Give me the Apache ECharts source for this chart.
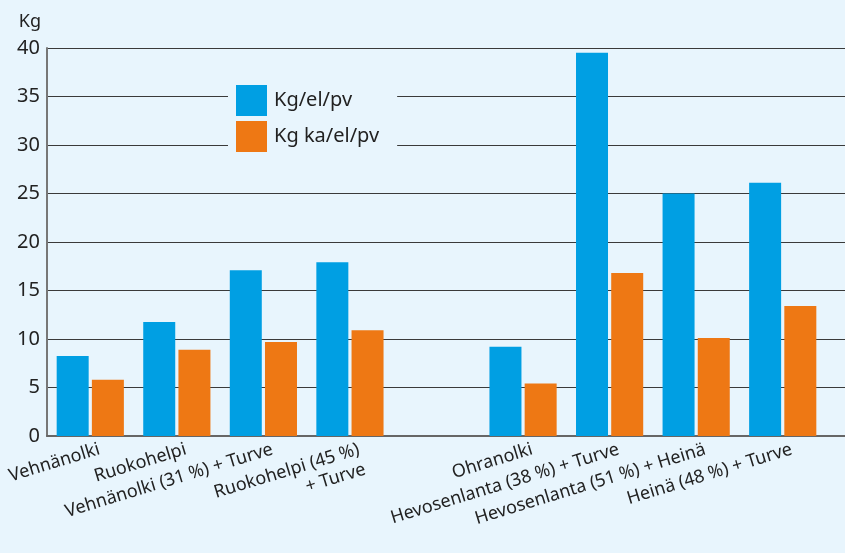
<!DOCTYPE html>
<html>
<head>
<meta charset="utf-8">
<script src="https://cdn.jsdelivr.net/npm/echarts@6/dist/echarts.min.js"></script>
<style>
  html, body { margin: 0; padding: 0; background: #e8f5fd; }
  #chart { width: 845px; height: 553px; }
</style>
</head>
<body>
<div id="chart"></div>
<script>
// Categories (an empty slot separates the two groups)
const categories = [
  'Vehnänolki',
  'Ruokohelpi',
  'Vehnänolki (31 %) + Turve',
  'Ruokohelpi (45 %)\n+ Turve',
  '',
  'Ohranolki',
  'Hevosenlanta (38 %) + Turve',
  'Hevosenlanta (51 %) + Heinä',
  'Heinä (48 %) + Turve'
];
const seriesNames = ['Kg/el/pv', 'Kg ka/el/pv'];
const kgPerDay   = [8.25, 11.75, 17.1, 17.9, null, 9.2, 39.5, 25.0, 26.1];
const kgDmPerDay = [5.8, 8.9, 9.7, 10.9, null, 5.4, 16.8, 10.1, 13.4];
const yTicks = { min: 0, max: 40, interval: 5 };

const BG = '#e8f5fd';
const TEXT = '#222222';
const FONT = 'Noto Sans';

const chart = echarts.init(document.getElementById('chart'), null, { renderer: 'canvas' });

const plotTop = 48, plotBottom = 117;

chart.setOption({
  backgroundColor: BG,
  animation: false,
  textStyle: { fontFamily: FONT, color: TEXT },
  legend: {
    data: seriesNames,
    orient: 'vertical',
    left: 228,
    top: 79,
    itemWidth: 31,
    itemHeight: 31,
    itemGap: 5,
    padding: [6, 18, 6, 8],
    backgroundColor: BG,
    icon: 'rect',
    textStyle: { fontSize: 20, color: TEXT, fontFamily: FONT, padding: [0, 0, 0, 2] }
  },
  grid: [
    // full-width grid: value axis, gridlines and baseline
    { left: 47, right: 0, top: plotTop, bottom: plotBottom },
    // bars
    { left: 47, right: 19, top: plotTop, bottom: plotBottom },
    // category labels, nudged slightly right of the bar centres
    { left: 53, right: 13, top: plotTop, bottom: plotBottom }
  ],
  xAxis: [
    {
      gridIndex: 0, type: 'value', min: 0, max: 1,
      axisLine: { show: true, lineStyle: { color: '#666', width: 2 } },
      axisTick: { show: false }, axisLabel: { show: false }, splitLine: { show: false }
    },
    {
      gridIndex: 1, type: 'category', data: categories,
      axisLine: { show: false }, axisTick: { show: false }, axisLabel: { show: false }
    },
    {
      gridIndex: 2, type: 'category', data: categories,
      axisLine: { show: false }, axisTick: { show: false },
      axisLabel: {
        interval: 0, rotate: 17, margin: 3,
        verticalAlign: 'top',
        fontSize: 18, color: TEXT, fontFamily: FONT, lineHeight: 21
      }
    }
  ],
  yAxis: [
    {
      gridIndex: 0, type: 'value',
      min: yTicks.min, max: yTicks.max, interval: yTicks.interval,
      name: 'Kg', nameLocation: 'end', nameGap: 17,
      nameTextStyle: { fontSize: 18, color: TEXT, fontFamily: FONT, align: 'right', padding: [0, 6, 0, 0] },
      axisLine: { show: true, lineStyle: { color: '#777', width: 2 } },
      axisTick: { show: false },
      axisLabel: { fontSize: 20, color: TEXT, fontFamily: FONT, margin: 7 },
      splitLine: { show: true, lineStyle: { color: '#3a3a3a', width: 1 } }
    },
    {
      gridIndex: 1, type: 'value',
      min: yTicks.min, max: yTicks.max, interval: yTicks.interval,
      show: false, splitLine: { show: false }
    },
    {
      gridIndex: 2, type: 'value', min: 0, max: 1,
      show: false, splitLine: { show: false }
    }
  ],
  series: [
    {
      name: seriesNames[0], type: 'bar', xAxisIndex: 1, yAxisIndex: 1,
      data: kgPerDay, barWidth: 32, barGap: '10%',
      itemStyle: { color: '#009fe3' }
    },
    {
      name: seriesNames[1], type: 'bar', xAxisIndex: 1, yAxisIndex: 1,
      data: kgDmPerDay, barWidth: 32, barGap: '10%',
      itemStyle: { color: '#ee7814' }
    }
  ]
});
</script>
</body>
</html>
